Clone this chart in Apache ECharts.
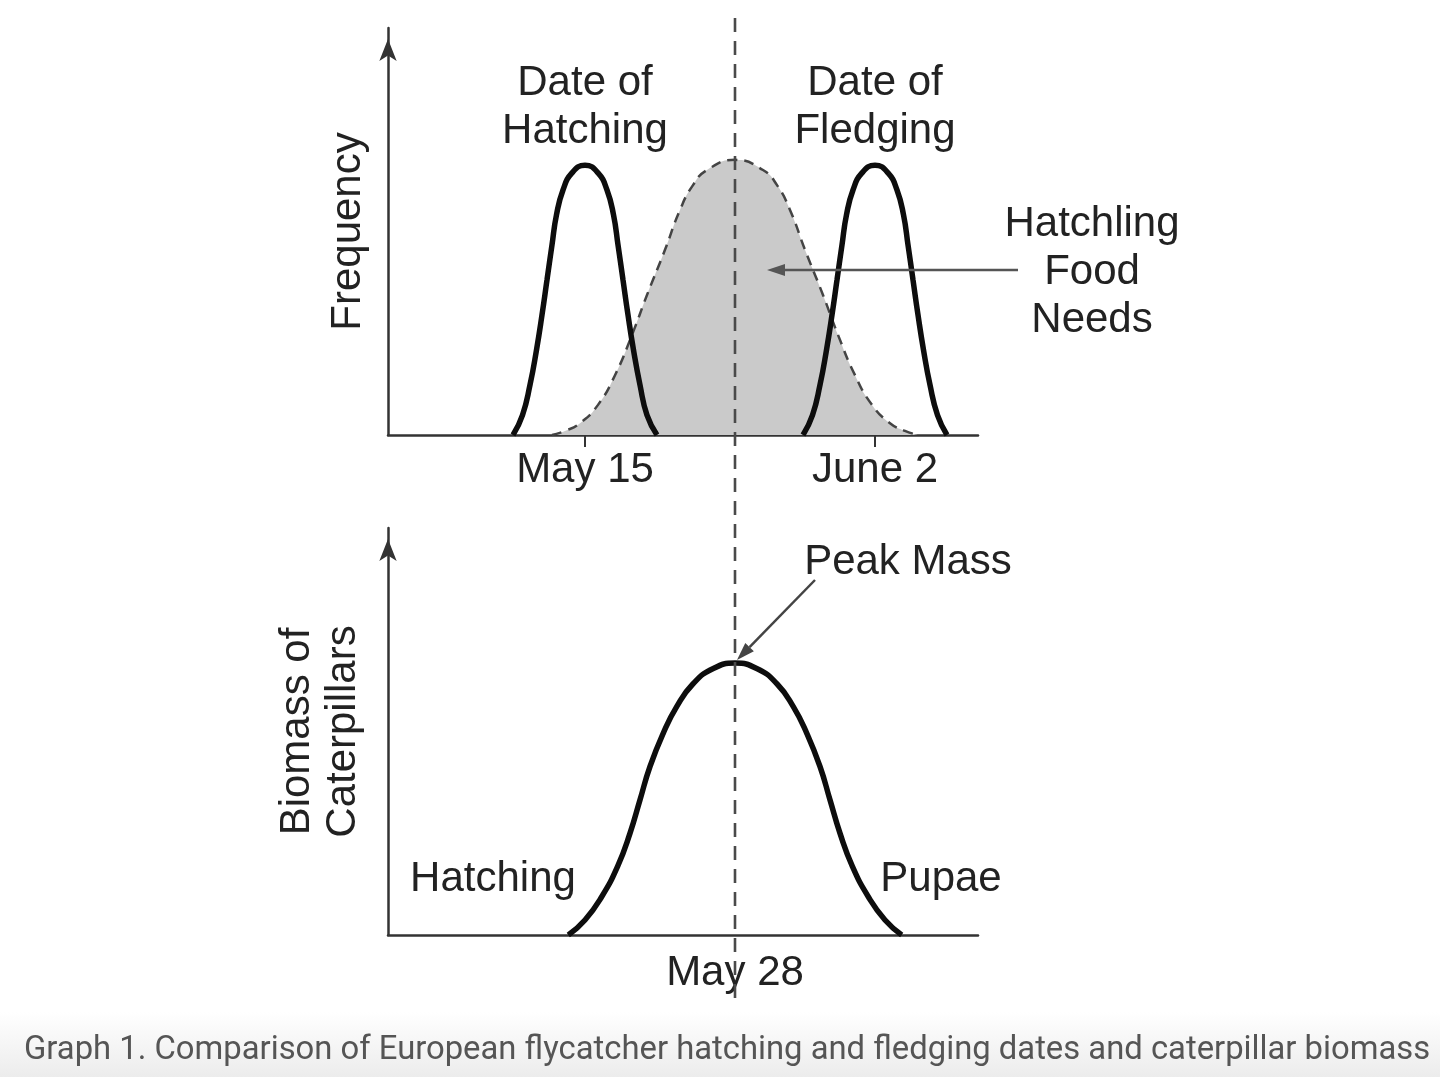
<!DOCTYPE html>
<html><head><meta charset="utf-8">
<script src="https://cdn.jsdelivr.net/npm/echarts@6/dist/echarts.min.js"></script>
<style>html,body{margin:0;padding:0;background:#fff}#c{width:1440px;height:1077px}</style>
</head><body><div id="c"></div><script>
// x in arbitrary day-position units (axis 0..59), y in relative units (0..100)
const hatchX = [12.5, 13.45, 14.2, 14.85, 15.4, 15.9, 16.4, 16.85, 17.5, 18.4, 19.7, 21.0, 21.9, 22.55, 23.0, 23.5, 24.0, 24.55, 25.2, 25.9, 26.9];
const hatchY = [0, 4.9, 12.3, 20.9, 29.5, 38.1, 46.7, 54.1, 60.2, 64.4, 66.3, 64.4, 60.2, 54.1, 46.7, 38.1, 29.5, 20.9, 12.3, 4.9, 0];
const fledgeX = [41.5, 42.45, 43.2, 43.85, 44.4, 44.9, 45.4, 45.85, 46.5, 47.4, 48.7, 50.0, 50.9, 51.55, 52.0, 52.5, 53.0, 53.55, 54.2, 54.95, 55.9];
const fledgeY = [0, 4.9, 12.3, 20.9, 29.5, 38.1, 46.7, 54.1, 60.2, 64.4, 66.3, 64.4, 60.2, 54.1, 46.7, 38.1, 29.5, 20.9, 12.3, 4.9, 0];
const foodX = [16.4, 17.7, 19.2, 21.0, 22.7, 24.4, 25.9, 27.7, 29.2, 30.5, 31.9, 34.7, 37.5, 38.9, 40.2, 41.7, 43.5, 45.0, 46.7, 48.4, 50.2, 51.7, 53.0];
const foodY = [0, 1.0, 2.9, 7.4, 14.7, 24.6, 34.4, 45.5, 55.3, 61.4, 65.1, 67.6, 65.1, 61.4, 55.3, 45.5, 34.4, 24.6, 14.7, 7.4, 2.9, 1.0, 0];
const biomassX = [18.03, 19.7, 21.37, 22.95, 24.2, 25.2, 26.2, 27.53, 28.87, 30.53, 32.53, 34.7, 36.87, 38.87, 40.53, 41.87, 43.2, 44.2, 45.2, 46.45, 48.03, 49.7, 51.37];
const biomassY = [0, 3.7, 9.4, 16.8, 25.0, 33.2, 41.4, 49.6, 56.1, 61.8, 65.5, 66.8, 65.5, 61.8, 56.1, 49.6, 41.4, 33.2, 25.0, 16.8, 9.4, 3.7, 0];
const topTickValues = [19.7, 48.7];
const topTickLabels = ['May 15', 'June 2'];
const bottomTickValues = [34.7];
const bottomTickLabels = ['May 28'];
const peakDay = 34.7;

const zip = (xs, ys) => xs.map((x, i) => [x, ys[i]]);
const lookup = (vals, labels) => v => { for (let i = 0; i < vals.length; i++) if (Math.abs(v - vals[i]) < 1e-6) return labels[i]; return ''; };

const FONT = '"Liberation Sans", Arial, sans-serif';
const TXT = '#222';
const AX = { color: '#333', width: 2.5 };
const SMOOTH = 0.5;

const chart = echarts.init(document.getElementById('c'), null, { renderer: 'canvas' });

function yAx(grid, name, gap) {
  return {
    gridIndex: grid, type: 'value', min: 0, max: 100,
    axisLine: { show: true, symbol: ['none', 'arrow'], symbolSize: [13, 22], symbolOffset: [0, -11], lineStyle: AX },
    axisTick: { show: false }, axisLabel: { show: false }, splitLine: { show: false },
    name: name, nameLocation: 'middle', nameGap: gap,
    nameTextStyle: { fontSize: 42, color: TXT, fontFamily: FONT, lineHeight: 46 }
  };
}
function xAx(grid, vals, labels, tick, margin) {
  return {
    gridIndex: grid, type: 'value', min: 0, max: 59,
    axisLine: { show: true, onZero: false, lineStyle: AX },
    splitLine: { show: false },
    axisTick: { show: tick, customValues: vals, length: 12, lineStyle: { color: '#333', width: 2 } },
    axisLabel: { customValues: vals, formatter: lookup(vals, labels), fontSize: 42, color: TXT, fontFamily: FONT, margin: margin }
  };
}
// inner half of the crossing ticks on the top axis
const innerTicks = {
  gridIndex: 0, type: 'value', min: 0, max: 59,
  axisLine: { show: false }, splitLine: { show: false }, axisLabel: { show: false },
  axisTick: { show: true, inside: true, customValues: topTickValues, length: 11, lineStyle: { color: '#333', width: 2 } }
};

const option = {
  animation: false,
  backgroundColor: '#fff',
  grid: [
    { left: 388, top: 28, width: 590, height: 407 },
    { left: 388, top: 528, width: 590, height: 407 }
  ],
  xAxis: [xAx(0, topTickValues, topTickLabels, true, 14), xAx(1, bottomTickValues, bottomTickLabels, false, 17), innerTicks],
  yAxis: [yAx(0, 'Frequency', 17), yAx(1, 'Biomass of\nCaterpillars', 22)],
  series: [
    { name: 'Hatchling Food Needs', type: 'line', xAxisIndex: 0, yAxisIndex: 0, data: zip(foodX, foodY),
      smooth: SMOOTH, showSymbol: false, lineStyle: { color: '#444', width: 2.5, type: [10, 7] },
      areaStyle: { color: '#cacaca', opacity: 1 }, z: 2 },
    { name: 'Date of Hatching', type: 'line', xAxisIndex: 0, yAxisIndex: 0, data: zip(hatchX, hatchY),
      smooth: SMOOTH, showSymbol: false, lineStyle: { color: '#0d0d0d', width: 5.5 }, z: 4 },
    { name: 'Date of Fledging', type: 'line', xAxisIndex: 0, yAxisIndex: 0, data: zip(fledgeX, fledgeY),
      smooth: SMOOTH, showSymbol: false, lineStyle: { color: '#0d0d0d', width: 5.5 }, z: 4 },
    { name: 'Biomass of Caterpillars', type: 'line', xAxisIndex: 1, yAxisIndex: 1, data: zip(biomassX, biomassY),
      smooth: SMOOTH, showSymbol: false, lineStyle: { color: '#0d0d0d', width: 5.5 }, z: 4 }
  ]
};
chart.setOption(option);

function arrow(x1, y1, x2, y2, color, w, headLen, headW) {
  const dx = x2 - x1, dy = y2 - y1, L = Math.hypot(dx, dy);
  const ux = dx / L, uy = dy / L, px = -uy, py = ux;
  const bx = x2 - ux * headLen, by = y2 - uy * headLen;
  return [
    { type: 'line', z: 10, shape: { x1: x1, y1: y1, x2: bx, y2: by }, style: { stroke: color, lineWidth: w } },
    { type: 'polygon', z: 10, shape: { points: [[x2, y2], [bx + px * headW, by + py * headW], [bx - px * headW, by - py * headW]] }, style: { fill: color } }
  ];
}
function txt(x, y, s, extra) {
  return Object.assign({ type: 'text', z: 10, x: x, y: y,
    style: { text: s, fill: TXT, fontSize: 42, fontFamily: FONT, align: 'center', verticalAlign: 'middle', lineHeight: 48 } }, extra || {});
}

const px = chart.convertToPixel({ xAxisIndex: 0 }, peakDay);
const graphics = [
  { type: 'rect', z: 0, shape: { x: 0, y: 1012, width: 1440, height: 65 },
    style: { fill: new echarts.graphic.LinearGradient(0, 0, 0, 1, [{ offset: 0, color: '#ffffff' }, { offset: 1, color: '#ececec' }]) } },
  { type: 'line', z: 6, shape: { x1: px, y1: 18, x2: px, y2: 1000 }, style: { stroke: '#4a4a4a', lineWidth: 2.6, lineDash: [14, 9] } },
  txt(585, 107, 'Date of\nHatching'),
  txt(875, 107, 'Date of\nFledging'),
  txt(1092, 272, 'Hatchling\nFood\nNeeds'),
  txt(908, 562, 'Peak Mass'),
  txt(493, 879, 'Hatching'),
  txt(941, 879, 'Pupae'),
  { type: 'text', z: 10, x: 24, y: 1051, style: { text: 'Graph 1. Comparison of European flycatcher hatching and fledging dates and caterpillar biomass',
      fill: '#555', fontSize: 32.8, fontFamily: 'Roboto, sans-serif', align: 'left', verticalAlign: 'middle' } }
].concat(arrow(1018, 270, 767, 270, '#555', 2.5, 18, 6)).concat(arrow(815, 580, 737, 660, '#444', 2.5, 18, 6));
chart.setOption({ graphic: graphics });
</script></body></html>
